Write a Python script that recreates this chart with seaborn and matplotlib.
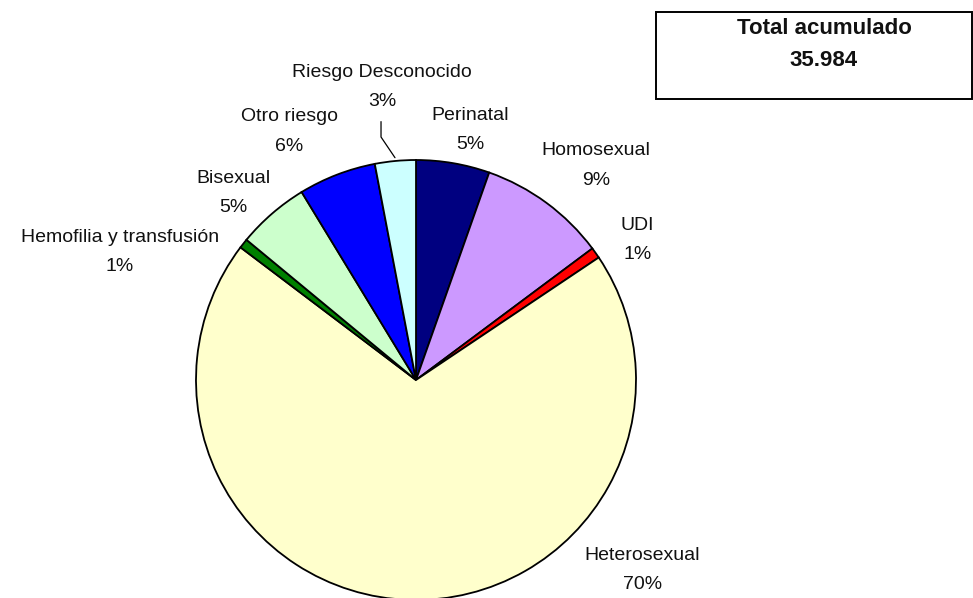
import matplotlib
matplotlib.use("Agg")
import numpy as np
import matplotlib.pyplot as plt
import matplotlib.patches as mpatches
import seaborn as sns

# datos (porcentaje del total acumulado, en sentido horario desde arriba)
categorias = ["Perinatal", "Homosexual", "UDI", "Heterosexual",
              "Hemofilia y transfusión", "Bisexual", "Otro riesgo", "Riesgo Desconocido"]
porcentajes = [5.4, 9.4, 0.8, 69.7, 0.7, 5.3, 5.7, 3.0]
etiquetas_pct = ["5%", "9%", "1%", "70%", "1%", "5%", "6%", "3%"]
total_titulo = "Total acumulado"
total_valor = "35.984"

colores = ["#000080", "#CC99FF", "#FF0000", "#FFFFCC",
           "#008000", "#CCFFCC", "#0000FF", "#CCFFFF"]

# centro de cada etiqueta (en radios del pastel)
pos_etiquetas = [(0.245, 1.136), (0.818, 0.975), (1.007, 0.636), (1.03, -0.864),
                 (-1.345, 0.582), (-0.832, 0.85), (-0.575, 1.13), (-0.155, 1.332)]
sep = 0.135  # separacion entre nombre y porcentaje

sns.set_theme(style="white")
plt.rcParams["font.family"] = ["Liberation Sans", "DejaVu Sans"]

fig = plt.figure(figsize=(9.73, 5.98), dpi=100)
ax = fig.add_axes([0, 0, 1, 1])

wedges, _ = ax.pie(porcentajes, colors=colores, startangle=90, counterclock=False,
                   radius=1.0, wedgeprops=dict(edgecolor="black", linewidth=1.3))

for cat, pct, (x, y) in zip(categorias, etiquetas_pct, pos_etiquetas):
    ax.text(x, y + sep / 2, cat, ha="center", va="center", fontsize=14, color="#111111")
    ax.text(x, y - sep / 2, pct, ha="center", va="center", fontsize=14, color="#111111")

# linea guia de "Riesgo Desconocido"
w = wedges[-1]
ang = np.deg2rad((w.theta1 + w.theta2) / 2)
lx, ly = pos_etiquetas[-1]
ax.plot([lx - 0.004, lx - 0.004, np.cos(ang) * 1.015],
        [ly - sep / 2 - 0.09, ly - sep / 2 - 0.16, np.sin(ang) * 1.015],
        color="black", linewidth=0.9)

# limites para que el pastel quede en la misma posicion que el original
ax.set_xlim(-416 / 220, 557 / 220)
ax.set_ylim(-218 / 220, 380 / 220)
ax.set_aspect("auto")
ax.axis("off")

# cuadro del total
caja = mpatches.Rectangle((656 / 973, 1 - 99 / 598), 316 / 973, 87 / 598,
                          transform=fig.transFigure, facecolor="white",
                          edgecolor="black", linewidth=1.4)
fig.patches.append(caja)
fig.text(824 / 973, 1 - 29 / 598, total_titulo, ha="center", va="center",
         fontsize=16, fontweight="bold", color="#111111")
fig.text(824 / 973, 1 - 61 / 598, total_valor, ha="center", va="center",
         fontsize=16, fontweight="bold", color="#111111")

fig.savefig("out.png", dpi=100, facecolor="white")
